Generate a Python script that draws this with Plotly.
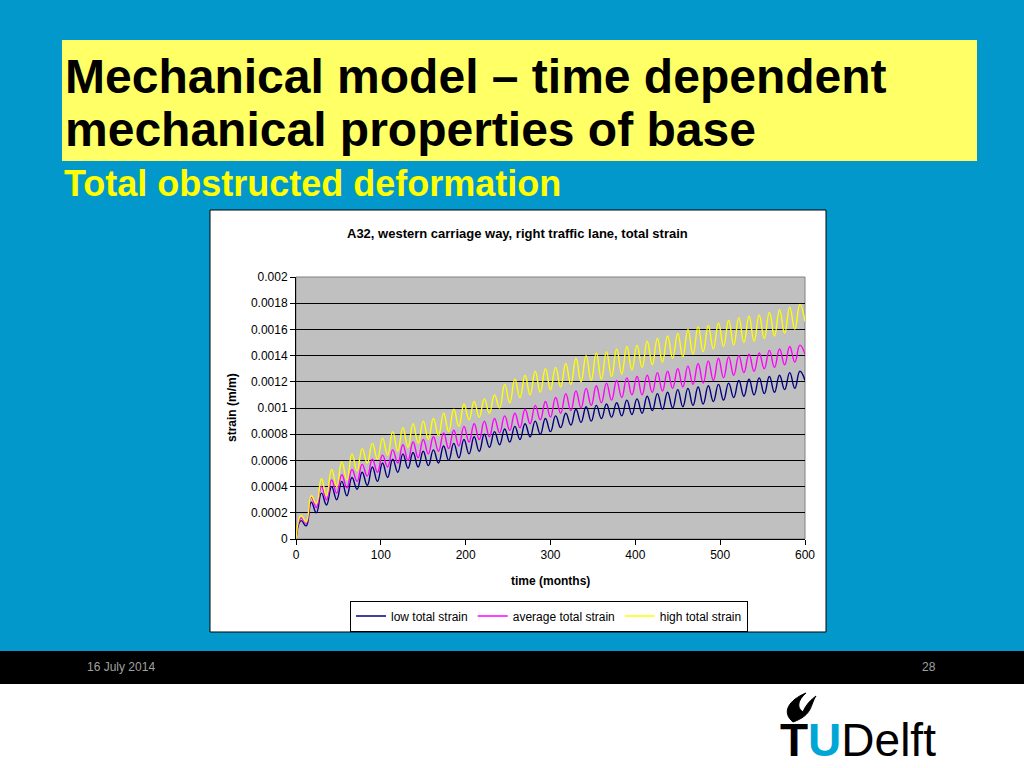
import plotly.graph_objects as go

W, H = 1024, 768

# ---------------- data ----------------
# yearly extremes of the oscillating strain curves, in microstrain (1e-6 m/m)
peak_months = list(range(6, 600, 12))      # month of each yearly peak
trough_months = list(range(12, 601, 12))   # month of each yearly trough
start_month = 0
start_value = 0

low_peaks = [140, 280, 350, 400, 440, 470, 510, 550, 580, 610,
             650, 660, 670, 680, 710, 730, 760, 780, 800, 820,
             840, 860, 880, 900, 920, 940, 960, 990, 1010, 1020,
             1030, 1040, 1060, 1070, 1090, 1110, 1120, 1140, 1150, 1160,
             1170, 1180, 1190, 1210, 1220, 1230, 1240, 1250, 1270, 1280]
low_troughs = [100, 200, 260, 300, 330, 380, 410, 440, 470, 510,
               540, 550, 560, 580, 600, 620, 650, 670, 700, 720,
               740, 760, 780, 800, 820, 850, 870, 890, 900, 920,
               930, 940, 950, 960, 980, 990, 1000, 1010, 1020, 1030,
               1050, 1060, 1080, 1090, 1100, 1110, 1120, 1140, 1150, 1210]

avg_peaks = [160, 320, 400, 450, 490, 530, 570, 610, 640, 680,
             720, 740, 760, 780, 810, 830, 860, 880, 900, 920,
             940, 960, 990, 1020, 1050, 1080, 1110, 1130, 1150, 1170,
             1190, 1210, 1230, 1240, 1250, 1270, 1280, 1300, 1320, 1340,
             1360, 1380, 1390, 1400, 1410, 1420, 1440, 1450, 1470, 1480]
avg_troughs = [120, 240, 300, 350, 390, 440, 480, 510, 550, 580,
               600, 620, 650, 670, 690, 710, 740, 760, 780, 810,
               830, 850, 880, 910, 930, 960, 980, 1000, 1020, 1040,
               1060, 1080, 1100, 1100, 1120, 1130, 1150, 1160, 1180, 1190,
               1210, 1230, 1250, 1270, 1280, 1300, 1310, 1330, 1350, 1410]

high_peaks = [180, 330, 460, 530, 590, 650, 690, 730, 770, 820,
              850, 880, 900, 920, 960, 990, 1030, 1050, 1070, 1100,
              1180, 1220, 1250, 1280, 1300, 1310, 1340, 1380, 1400, 1420,
              1430, 1450, 1470, 1480, 1510, 1530, 1550, 1570, 1600, 1620,
              1630, 1650, 1670, 1690, 1700, 1710, 1730, 1750, 1770, 1790]
high_troughs = [130, 270, 330, 400, 450, 520, 580, 610, 640, 670,
                700, 730, 760, 790, 820, 860, 910, 930, 960, 1000,
                1040, 1080, 1100, 1120, 1140, 1160, 1180, 1200, 1210, 1220,
                1240, 1260, 1290, 1310, 1330, 1350, 1380, 1390, 1410, 1430,
                1450, 1470, 1480, 1500, 1510, 1530, 1550, 1570, 1600, 1660]

series_names = ["low total strain", "average total strain", "high total strain"]
series_colors = ["#000080", "#FF00FF", "#FFFF00"]

y_tick_vals = [0, 0.0002, 0.0004, 0.0006, 0.0008, 0.001, 0.0012, 0.0014, 0.0016, 0.0018, 0.002]
y_tick_text = ["0", "0.0002", "0.0004", "0.0006", "0.0008", "0.001", "0.0012", "0.0014", "0.0016", "0.0018", "0.002"]
x_tick_vals = [0, 100, 200, 300, 400, 500, 600]

MICRO = 1e-6  # microstrain -> m/m


def build(peaks, troughs):
    xs, ys = [start_month], [start_value * MICRO]
    for tp, p, tt, t in zip(peak_months, peaks, trough_months, troughs):
        xs += [tp, tt]
        ys += [p * MICRO, t * MICRO]
    return xs, ys


def px(x):
    return x / W


def py(y):
    return 1 - y / H


fig = go.Figure()
for (pk, tr), name, col in zip([(low_peaks, low_troughs), (avg_peaks, avg_troughs),
                                (high_peaks, high_troughs)], series_names, series_colors):
    xs, ys = build(pk, tr)
    fig.add_trace(go.Scatter(x=xs, y=ys, mode="lines", name=name,
                             line=dict(color=col, width=1.4, shape="spline", smoothing=1.3)))

FONT = "Liberation Sans, Arial, sans-serif"

shapes = [
    # yellow title box
    dict(type="rect", xref="paper", yref="paper", x0=px(62), x1=px(977), y0=py(161), y1=py(40),
         fillcolor="#FFFF66", line=dict(width=0), layer="below"),
    # white chart box
    dict(type="rect", xref="paper", yref="paper", x0=px(210), x1=px(826), y0=py(632), y1=py(210),
         fillcolor="white", line=dict(color="black", width=1), layer="below"),
    # grey plot area
    dict(type="rect", xref="paper", yref="paper", x0=px(296), x1=px(805), y0=py(539), y1=py(277),
         fillcolor="#C0C0C0", line=dict(color="#808080", width=1), layer="below"),
    # black footer bar
    dict(type="rect", xref="paper", yref="paper", x0=0, x1=1, y0=py(684), y1=py(651),
         fillcolor="black", line=dict(width=0), layer="below"),
    # white bottom
    dict(type="rect", xref="paper", yref="paper", x0=0, x1=1, y0=0, y1=py(684),
         fillcolor="white", line=dict(width=0), layer="below"),
]

# flame of the logo (pixel control points)
flame_px = [(793, 722), (781, 712), (789, 700), (806, 693), (797, 701), (797, 708),
            (803, 712), (806, 704), (812, 699), (816, 696), (810, 705), (813, 715)]
P = ["%.5f,%.5f" % (px(a), py(b)) for a, b in flame_px]
flame_path = ("M {0} C {1} {2} {3} C {4} {5} {6} C {7} {8} {9} C {10} {11} {0} Z").format(*P)
shapes.append(dict(type="path", xref="paper", yref="paper", path=flame_path,
                   fillcolor="black", line=dict(color="black", width=1)))

annotations = [
    dict(text="<b>Mechanical model – time dependent</b>", x=px(63), y=py(76), xanchor="left",
         yanchor="middle", font=dict(family=FONT, size=48, color="black")),
    dict(text="<b>mechanical properties of base</b>", x=px(63), y=py(129), xanchor="left",
         yanchor="middle", font=dict(family=FONT, size=48, color="black")),
    dict(text="<b>Total obstructed deformation</b>", x=px(62), y=py(183), xanchor="left",
         yanchor="middle", font=dict(family=FONT, size=36, color="#FFFF00")),
    dict(text="<b>A32, western carriage way, right traffic lane, total strain</b>", x=px(517),
         y=py(233), xanchor="center", yanchor="middle", font=dict(family=FONT, size=13, color="black")),
    dict(text="<b>strain (m/m)</b>", x=px(232), y=py(408), xanchor="center", yanchor="middle",
         textangle=-90, font=dict(family=FONT, size=12, color="black")),
    dict(text="<b>time (months)</b>", x=px(550), y=py(581), xanchor="center", yanchor="middle",
         font=dict(family=FONT, size=12, color="black")),
    dict(text="16 July 2014", x=px(85), y=py(667), xanchor="left", yanchor="middle",
         font=dict(family=FONT, size=12, color="#A0A0A0")),
    dict(text="28", x=px(938), y=py(667), xanchor="right", yanchor="middle",
         font=dict(family=FONT, size=12, color="#A0A0A0")),
    dict(text="<b>T</b><span style='color:#00A6D6'><b>U</b></span>Delft", x=px(778), y=py(740),
         xanchor="left", yanchor="middle",
         font=dict(family="Liberation Sans Narrow, Liberation Sans, sans-serif", size=46, color="black")),
]
for a in annotations:
    a.setdefault("xref", "paper")
    a.setdefault("yref", "paper")
    a.setdefault("showarrow", False)

fig.update_layout(
    width=W, height=H,
    margin=dict(l=0, r=0, t=0, b=0, pad=0, autoexpand=False),
    paper_bgcolor="#0398CC",
    plot_bgcolor="rgba(0,0,0,0)",
    font=dict(family=FONT, size=12, color="black"),
    shapes=shapes,
    annotations=annotations,
    showlegend=True,
    legend=dict(orientation="h", x=px(549), y=py(616), xanchor="center", yanchor="middle",
                bgcolor="white", bordercolor="black", borderwidth=1,
                font=dict(family=FONT, size=12, color="black"), itemwidth=30,
                tracegroupgap=0),
    xaxis=dict(domain=[px(296), px(805)], range=[0, 600], tickvals=x_tick_vals,
               ticks="outside", ticklen=5, tickcolor="black", showline=True, linecolor="black",
               linewidth=1, showgrid=False, zeroline=False, automargin=False,
               tickfont=dict(family=FONT, size=12, color="black")),
    yaxis=dict(domain=[py(539), py(277)], range=[0, 0.002], tickvals=y_tick_vals,
               ticktext=y_tick_text, ticks="outside", ticklen=5, tickcolor="black",
               showline=True, linecolor="black", linewidth=1, showgrid=True,
               gridcolor="black", gridwidth=1, zeroline=False, automargin=False,
               tickfont=dict(family=FONT, size=12, color="black")),
)

fig.write_html("out.html", config={"displayModeBar": False})

# remove the browser's default page margin so the slide fills the window
with open("out.html", "r", encoding="utf-8") as f:
    html = f.read()
html = html.replace("<head>", "<head><style>html,body{margin:0;padding:0;overflow:hidden;}</style>", 1)
with open("out.html", "w", encoding="utf-8") as f:
    f.write(html)
